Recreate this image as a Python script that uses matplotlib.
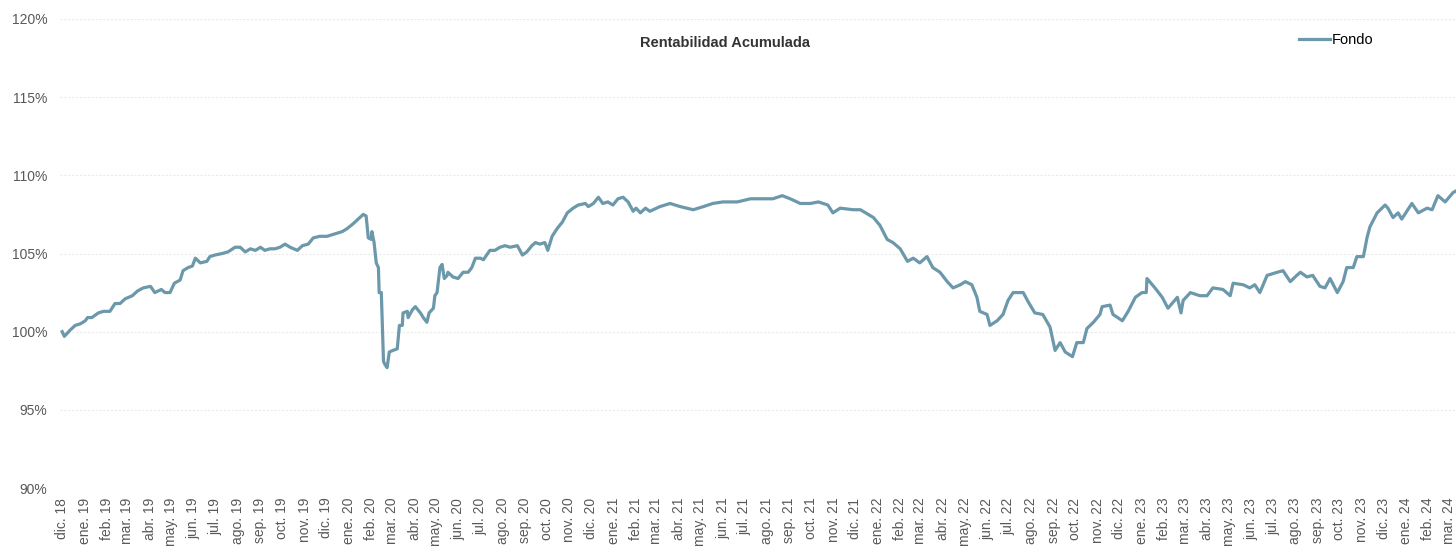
import matplotlib
matplotlib.use("Agg")
import matplotlib.pyplot as plt
import matplotlib.dates as mdates
from matplotlib.ticker import FixedLocator, FuncFormatter
import pandas as pd

plt.rcParams['font.family'] = ['Liberation Sans', 'DejaVu Sans']

start_date = "2018-12-01"
day_offsets = [
    0, 3, 11, 18, 25, 32, 35, 41, 50, 57, 66, 73, 80, 87, 97, 104, 112, 122, 128, 137,
    142, 149, 155, 163, 167, 174, 180, 184, 191, 200, 204, 211, 221, 229, 239, 246, 253, 260, 267, 274,
    280, 287, 294, 301, 308, 315, 325, 332, 340, 347, 356, 366, 373, 380, 387,
    394, 402, 409, 416, 420, 423, 427, 428, 431, 434, 437, 438, 441, 444, 446, 449, 452, 457, 463, 466,
    470, 471, 477, 478, 484, 488, 495, 499, 504, 507, 513, 515, 518, 522, 525, 528, 532, 533, 540, 547,
    554, 561, 566, 571, 578, 582, 591, 598, 605, 612, 619, 629, 636, 642, 649, 654, 660, 667, 671, 677,
    684, 691, 698, 706, 713, 723, 727, 734, 741, 747, 754, 761, 768, 775, 782, 789, 793, 799,
    806, 812, 826, 840, 854, 872, 886, 899, 913, 933, 951, 969, 982, 995, 1006, 1020, 1034, 1045, 1058,
    1065, 1075, 1093, 1103, 1121, 1130,
    1140, 1148, 1158, 1168, 1176, 1185, 1195, 1203, 1213, 1223, 1231, 1241, 1248, 1257, 1264, 1268, 1278,
    1282, 1292, 1300, 1307, 1314, 1328, 1335, 1344, 1355, 1365, 1372, 1379, 1386, 1396, 1402, 1411, 1416,
    1425, 1434, 1437, 1448, 1452, 1465, 1473, 1483, 1492, 1498, 1499, 1510, 1520, 1528, 1541, 1546,
    1549, 1559, 1572, 1582, 1590, 1604, 1614, 1618, 1632, 1641, 1648, 1655, 1665, 1679, 1687, 1697, 1706,
    1711, 1720, 1728, 1738, 1745, 1752, 1762, 1770, 1775, 1784, 1789, 1798, 1803, 1807, 1817, 1828, 1832,
    1839, 1846, 1851, 1865, 1874, 1886, 1893, 1901, 1911, 1922, 1926,
]
fondo = [
    100.0, 99.7, 100.1, 100.4, 100.5, 100.7, 100.9, 100.9, 101.2, 101.3, 101.3, 101.8, 101.8, 102.1, 102.3, 102.6, 102.8, 102.9, 102.5, 102.7,
    102.5, 102.5, 103.1, 103.3, 103.9, 104.1, 104.2, 104.7, 104.4, 104.5, 104.8, 104.9, 105.0, 105.1, 105.4, 105.4, 105.1, 105.3, 105.2, 105.4,
    105.2, 105.3, 105.3, 105.4, 105.6, 105.4, 105.2, 105.5, 105.6, 106.0, 106.1, 106.1, 106.2, 106.3, 106.4,
    106.6, 106.9, 107.2, 107.5, 107.4, 106.0, 105.9, 106.4, 105.7, 104.4, 104.1, 102.5, 102.5, 98.1, 97.9, 97.7, 98.7, 98.8, 98.9, 100.4,
    100.4, 101.2, 101.3, 100.9, 101.4, 101.6, 101.2, 100.9, 100.6, 101.2, 101.5, 102.3, 102.5, 104.1, 104.3, 103.4, 103.6, 103.8, 103.5, 103.4,
    103.8, 103.8, 104.1, 104.7, 104.7, 104.6, 105.2, 105.2, 105.4, 105.5, 105.4, 105.5, 104.9, 105.1, 105.5, 105.7, 105.6, 105.7, 105.2, 106.1,
    106.6, 107.0, 107.6, 107.9, 108.1, 108.2, 108.0, 108.2, 108.6, 108.2, 108.3, 108.1, 108.5, 108.6, 108.3, 107.7, 107.9, 107.6,
    107.9, 107.7, 108.0, 108.2, 108.0, 107.8, 108.0, 108.2, 108.3, 108.3, 108.5, 108.5, 108.5, 108.7, 108.5, 108.2, 108.2, 108.3, 108.1,
    107.6, 107.9, 107.8, 107.8, 107.3, 106.8,
    105.9, 105.7, 105.3, 104.5, 104.7, 104.4, 104.8, 104.1, 103.8, 103.2, 102.8, 103.0, 103.2, 103.0, 102.2, 101.3, 101.1,
    100.4, 100.7, 101.1, 102.0, 102.5, 102.5, 101.9, 101.2, 101.1, 100.3, 98.8, 99.3, 98.7, 98.4, 99.3, 99.3, 100.2,
    100.6, 101.1, 101.6, 101.7, 101.1, 100.7, 101.3, 102.2, 102.5, 102.5, 103.4, 102.8, 102.2, 101.5, 102.2, 101.2,
    102.0, 102.5, 102.3, 102.3, 102.8, 102.7, 102.3, 103.1, 103.0, 102.8, 103.0, 102.5, 103.6, 103.8, 103.9, 103.2, 103.6,
    103.8, 103.5, 103.6, 102.9, 102.8, 103.4, 102.5, 103.2, 104.1, 104.1, 104.8, 104.8, 106.0, 106.7, 107.6, 108.1, 107.9,
    107.3, 107.6, 107.2, 108.2, 107.6, 107.9, 107.8, 108.7, 108.3, 108.9, 109.0,
]

month_names = ["ene.", "feb.", "mar.", "abr.", "may.", "jun.", "jul.", "ago.", "sep.", "oct.", "nov.", "dic."]
tick_dates = pd.date_range("2018-12-01", "2024-03-01", freq="MS")
tick_labels = [f"{month_names[d.month - 1]} {d.year % 100:02d}" for d in tick_dates]
y_ticks = [90, 95, 100, 105, 110, 115, 120]

dates = pd.to_datetime(start_date) + pd.to_timedelta(day_offsets, unit="D")

fig = plt.figure(figsize=(14.56, 5.48), dpi=100)
ax = fig.add_axes([60 / 1456, 1 - 488 / 548, 1 - 60 / 1456, (488 - 19) / 548])

line_color = "#6b98aa"
ax.plot(dates, fondo, color=line_color, linewidth=2.3, label="Fondo", solid_joinstyle="round")

ax.set_ylim(90, 120)
ax.set_xlim(pd.to_datetime(start_date) - pd.Timedelta(days=3), pd.to_datetime(start_date) + pd.Timedelta(days=1926))
ax.yaxis.set_major_locator(FixedLocator(y_ticks))
ax.yaxis.set_major_formatter(FuncFormatter(lambda v, p: f"{v:.0f}%"))
ax.set_xticks(mdates.date2num(tick_dates))
ax.set_xticklabels(tick_labels, rotation=90)

ax.grid(axis="y", color="#ebebeb", linewidth=0.8, linestyle=(0, (2, 1.5)))
ax.grid(axis="x", visible=False)
ax.set_axisbelow(True)
for s in ax.spines.values():
    s.set_visible(False)
ax.tick_params(axis="both", length=0, colors="#595959", labelsize=10)
ax.tick_params(axis="y", pad=9)
ax.tick_params(axis="x", pad=7)

fig.text(725 / 1456, 1 - 43 / 548, "Rentabilidad Acumulada", ha="center", va="center",
         fontsize=10.5, fontweight="bold", color="#333333")

leg = ax.legend(loc="center left", bbox_to_anchor=(1299 / 1456, 1 - 40 / 548),
                bbox_transform=fig.transFigure, frameon=False, fontsize=10.5,
                handlelength=2.1, handletextpad=0.15, borderpad=0, borderaxespad=0)

fig.savefig("out.png", dpi=100)
